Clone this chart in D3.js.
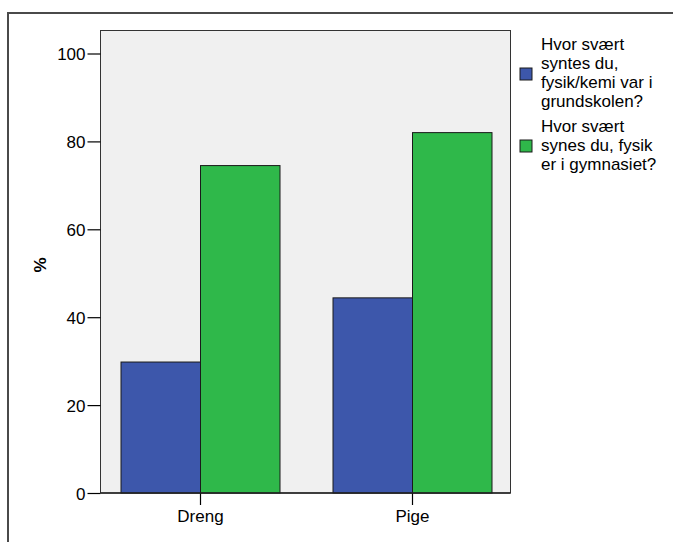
<!DOCTYPE html>
<html>
<head>
<meta charset="utf-8">
<script src="https://cdn.jsdelivr.net/npm/d3@7"></script>
<style>
  html, body { margin: 0; padding: 0; background: #fff; overflow: hidden; }
  svg { display: block; }
  text { font-family: "Liberation Sans", Arial, sans-serif; fill: #000; }
</style>
</head>
<body>
<svg id="chart" width="673" height="542"></svg>
<script>
const categories = ["Dreng", "Pige"];
const seriesNames = [
  ["Hvor svært", "syntes du,", "fysik/kemi var i", "grundskolen?"],
  ["Hvor svært", "synes du, fysik", "er i gymnasiet?"]
];
const grundskolen = [29.8, 44.4];
const gymnasiet = [74.5, 82.0];
const yTicks = [0, 20, 40, 60, 80, 100];
const colors = ["#3d57ab", "#2fb84a"];
const fontSize = "17px";

const svg = d3.select("#chart");

// outer frame (top and left edges visible)
svg.append("path")
  .attr("d", "M8,560 L8,13 L690,13")
  .attr("fill", "none").attr("stroke", "#4a4a4a").attr("stroke-width", 2);

const plot = { left: 100.5, right: 510.5, top: 30.5, bottom: 493 };

const y = d3.scaleLinear().domain([0, 100]).range([plot.bottom, 53.5]);
const start = plot.left + 20 - 0.125 * 212 + 0.5;
const x0 = d3.scaleBand().domain(categories)
  .range([start, start + 424])
  .paddingInner(0.25).paddingOuter(0.125);
const x1 = d3.scaleBand().domain([0, 1]).range([0, x0.bandwidth()]);

// plot background
svg.append("rect")
  .attr("x", plot.left).attr("y", plot.top)
  .attr("width", plot.right - plot.left).attr("height", plot.bottom - plot.top)
  .attr("fill", "#f0f0f0").attr("stroke", "#333").attr("stroke-width", 1);

const data = categories.map((c, i) => ({ cat: c, vals: [grundskolen[i], gymnasiet[i]] }));

const g = svg.append("g");
data.forEach(d => {
  d.vals.forEach((v, j) => {
    g.append("rect")
      .attr("x", x0(d.cat) + x1(j))
      .attr("y", y(v))
      .attr("width", x1.bandwidth())
      .attr("height", plot.bottom - y(v))
      .attr("fill", colors[j])
      .attr("stroke", "#1a1a1a").attr("stroke-width", 1);
  });
});

// y axis
const yAxis = d3.axisLeft(y).tickValues(yTicks).tickSize(13).tickPadding(2).tickFormat(d3.format("d"));
const ya = svg.append("g").attr("transform", `translate(${plot.left},0)`).call(yAxis);
ya.select(".domain").remove();
ya.selectAll("line").attr("stroke", "#000").attr("stroke-width", 1.2);
ya.selectAll("text").style("font-size", fontSize).attr("dy", "0.36em");

// x axis
const xAxis = d3.axisBottom(x0).tickSize(12).tickPadding(5);
const xa = svg.append("g").attr("transform", `translate(0,${plot.bottom})`).call(xAxis);
xa.select(".domain").remove();
xa.selectAll("line").attr("stroke", "#000").attr("stroke-width", 1.2);
xa.selectAll("text").style("font-size", fontSize);

// bottom axis line
svg.append("line")
  .attr("x1", plot.left).attr("x2", plot.right)
  .attr("y1", plot.bottom).attr("y2", plot.bottom)
  .attr("stroke", "#222").attr("stroke-width", 1.5);

// y title
svg.append("text")
  .attr("transform", "translate(46,265) rotate(-90)")
  .attr("text-anchor", "middle")
  .style("font-size", fontSize).style("font-weight", "bold")
  .text("%");

// legend
const legendGroups = [
  { baseline: 50, swatchY: 68 },
  { baseline: 132, swatchY: 140 }
];
seriesNames.forEach((lines, i) => {
  const lg = svg.append("g");
  lg.append("rect")
    .attr("x", 520).attr("y", legendGroups[i].swatchY)
    .attr("width", 12).attr("height", 12)
    .attr("fill", colors[i]).attr("stroke", "#1a1a1a").attr("stroke-width", 1);
  lines.forEach((t, k) => {
    lg.append("text")
      .attr("x", 541).attr("y", legendGroups[i].baseline + k * 19)
      .style("font-size", fontSize)
      .text(t);
  });
});
</script>
</body>
</html>
